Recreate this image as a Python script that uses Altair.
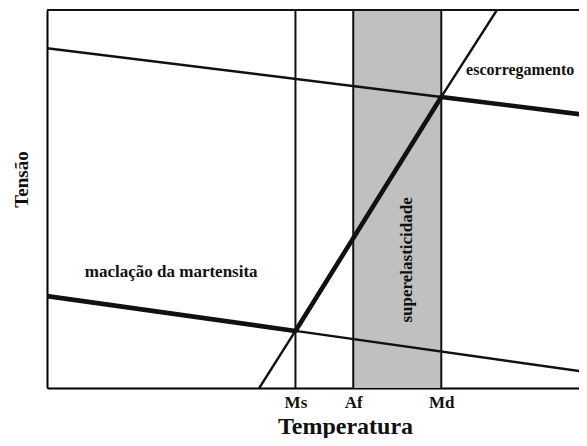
import altair as alt
import pandas as pd

# characteristic temperatures (arbitrary units on the temperature axis)
tick_names = ["Ms", "Af", "Md"]
tick_temps = [46.0, 56.7, 73.0]

# line segments: (segment id, weight, temperature, stress)
seg_ids = ["esc_a", "esc_a", "esc_b", "esc_b",
           "mac_a", "mac_a", "mac_b", "mac_b",
           "ind_a", "ind_a", "ind_b", "ind_b", "ind_c", "ind_c"]
seg_weight = ["fina", "fina", "grossa", "grossa",
              "grossa", "grossa", "fina", "fina",
              "fina", "fina", "grossa", "grossa", "fina", "fina"]
seg_temp = [0.0, 73.0, 73.0, 100.0,
            0.0, 46.0, 46.0, 100.0,
            39.3, 46.0, 46.0, 73.0, 73.0, 83.3]
seg_stress = [89.9, 77.0, 77.0, 72.2,
              24.3, 15.1, 15.1, 4.2,
              0.0, 15.1, 15.1, 77.0, 77.0, 100.0]

# annotations
label_text = ["maclação da martensita", "escorregamento", "superelasticidade"]
label_temp = [23.0, 77.6, 66.7]
label_stress = [30.7, 84.1, 33.9]
label_angle = [0, 0, 270]
label_align = ["center", "left", "center"]
label_size = [17, 16, 17]

FONT = "Liberation Serif"

segs = pd.DataFrame({"seg": seg_ids, "peso": seg_weight,
                     "T": seg_temp, "s": seg_stress})
ticks = pd.DataFrame({"nome": tick_names, "T": tick_temps,
                      "s0": [0.0] * 3, "s1": [100.0] * 3})
band = pd.DataFrame({"T0": [tick_temps[1]], "T1": [tick_temps[2]],
                     "s0": [0.0], "s1": [100.0]})

# visible part of the temperature axis (the figure is cut on the right)
xs = alt.Scale(domain=[0, 98.5], nice=False, zero=False)
ys = alt.Scale(domain=[0, 100], nice=False, zero=False)

label_expr = ("datum.value < 50 ? 'Ms' : (datum.value < 60 ? 'Af' : 'Md')")

x_axis = alt.Axis(values=tick_temps, labelExpr=label_expr, ticks=False, grid=False,
                  domain=True, domainColor="black", domainWidth=2,
                  labelFont=FONT, labelFontWeight="bold", labelFontSize=17,
                  labelColor="#111", labelPadding=6,
                  title="Temperatura", titleFont=FONT, titleFontWeight="bold",
                  titleFontSize=24, titleColor="#111", titleX=298, titleY=45,
                  titleAlign="center", titleBaseline="alphabetic")
y_axis = alt.Axis(labels=False, ticks=False, grid=False, domain=True,
                  domainColor="black", domainWidth=2,
                  title="Tensão", titleFont=FONT, titleFontWeight="bold",
                  titleFontSize=19, titleColor="#111", titleX=-16, titleY=169,
                  titleAngle=270, titleBaseline="bottom", titleAlign="center")

band_layer = alt.Chart(band).mark_rect(color="#c0c0c0").encode(
    x=alt.X("T0:Q", scale=xs, axis=x_axis),
    x2="T1:Q",
    y=alt.Y("s0:Q", scale=ys, axis=y_axis),
    y2="s1:Q",
)

vlines = alt.Chart(ticks).mark_rule(color="#111", strokeWidth=2).encode(
    x=alt.X("T:Q", scale=xs),
    y=alt.Y("s0:Q", scale=ys),
    y2="s1:Q",
)

lines = alt.Chart(segs).mark_line(color="#111", strokeCap="round", clip=True).encode(
    x=alt.X("T:Q", scale=xs),
    y=alt.Y("s:Q", scale=ys),
    detail="seg:N",
    strokeWidth=alt.StrokeWidth("peso:N",
                                scale=alt.Scale(domain=["fina", "grossa"], range=[2.4, 4.6]),
                                legend=None),
)

top_border = alt.Chart(band).mark_rule(color="#111", strokeWidth=2).encode(
    x=alt.value(0), x2=alt.value(532), y=alt.value(0)
)

text_layers = []
for txt, t, s, ang, al, fs in zip(label_text, label_temp, label_stress,
                                  label_angle, label_align, label_size):
    df = pd.DataFrame({"txt": [txt], "T": [t], "s": [s]})
    text_layers.append(
        alt.Chart(df).mark_text(font=FONT, fontWeight="bold", fontSize=fs,
                                color="#111", angle=ang, align=al,
                                baseline="middle").encode(
            x=alt.X("T:Q", scale=xs),
            y=alt.Y("s:Q", scale=ys),
            text="txt:N",
        )
    )

chart = alt.layer(band_layer, vlines, lines, top_border, *text_layers).properties(
    width=532, height=378,
    padding={"left": 39, "top": 2, "right": 0, "bottom": 50},
    autosize=alt.AutoSizeParams(type="none"),
    background="white",
).configure_view(stroke=None)

chart.save("out.html", embed_options={"renderer": "svg", "actions": False})
